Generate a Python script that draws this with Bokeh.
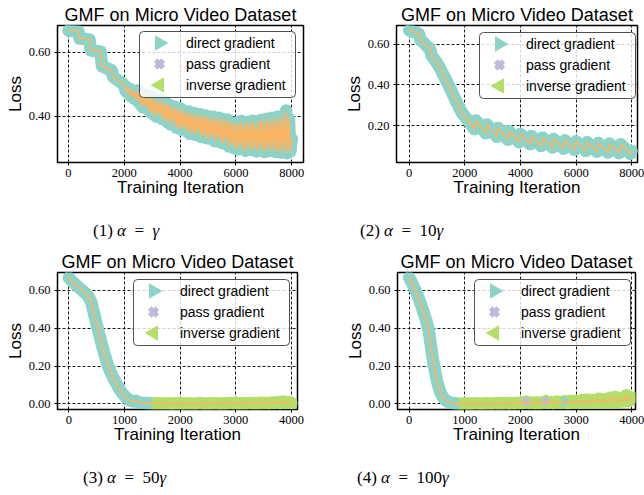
import numpy as np
from bokeh.plotting import figure
from bokeh.models import FixedTicker, PrintfTickFormatter, Range1d, Label, BoxAnnotation, Div
from bokeh.layouts import column, row
from bokeh.embed import file_html
from bokeh.resources import INLINE

# ---------------- data ----------------
TITLE = "GMF on Micro Video Dataset"
X_LABEL = "Training Iteration"
Y_LABEL = "Loss"
LEGEND_LABELS = ["direct gradient", "pass gradient", "inverse gradient"]
CAPTION_NUMS = ["(1)", "(2)", "(3)", "(4)"]
CAPTION_COEFS = ["", "10", "50", "100"]

XTICKS_8K = [0, 2000, 4000, 6000, 8000]
XTICKS_4K = [0, 1000, 2000, 3000, 4000]
YTICKS_1 = [0.40, 0.60]
YTICKS_2 = [0.20, 0.40, 0.60]
YTICKS_34 = [0.00, 0.20, 0.40, 0.60]

ITER_8K = list(range(0, 8001, 50))
ITER_4K = list(range(0, 4001, 50))

# (1) alpha = gamma
LOSS_1 = [
    0.668, 0.668, 0.667, 0.667, 0.666, 0.666, 0.665, 0.665,
    0.643, 0.643, 0.642, 0.642, 0.641, 0.641, 0.640, 0.640,
    0.606, 0.605, 0.605, 0.604, 0.604, 0.603, 0.603, 0.602,
    0.557, 0.555, 0.553, 0.551, 0.549, 0.547, 0.545, 0.543,
    0.523, 0.520, 0.517, 0.514, 0.511, 0.508, 0.505, 0.502,
    0.495, 0.478, 0.490, 0.470, 0.486, 0.462, 0.480, 0.455, 0.476, 0.450,
    0.480, 0.440, 0.470, 0.428, 0.462, 0.435, 0.468, 0.420, 0.455, 0.412,
    0.462, 0.405, 0.450, 0.398, 0.444, 0.410, 0.452, 0.392, 0.438, 0.388,
    0.442, 0.382, 0.436, 0.375, 0.425, 0.388, 0.430, 0.365, 0.420, 0.362,
    0.425, 0.358, 0.418, 0.366, 0.410, 0.352, 0.415, 0.345, 0.405, 0.350,
    0.410, 0.342, 0.400, 0.352, 0.406, 0.335, 0.398, 0.340, 0.402, 0.332,
    0.400, 0.330, 0.392, 0.338, 0.398, 0.322, 0.388, 0.330, 0.395, 0.318,
    0.392, 0.315, 0.385, 0.325, 0.390, 0.305, 0.380, 0.312, 0.378, 0.300,
    0.380, 0.296, 0.376, 0.310, 0.385, 0.298, 0.372, 0.292, 0.382, 0.305,
    0.378, 0.295, 0.386, 0.300, 0.372, 0.290, 0.384, 0.302, 0.388, 0.292,
    0.385, 0.288, 0.392, 0.300, 0.380, 0.292, 0.395, 0.296, 0.385, 0.288,
    0.398, 0.292, 0.390, 0.286, 0.402, 0.298, 0.418, 0.284, 0.392, 0.290,
    0.330,
]

# (2) alpha = 10 gamma
LOSS_2 = [
    0.669, 0.667, 0.664, 0.662, 0.659, 0.657, 0.654, 0.651,
    0.622, 0.617, 0.611, 0.603, 0.596, 0.589, 0.583, 0.578,
    0.545, 0.536, 0.527, 0.517, 0.507, 0.496, 0.484, 0.470,
    0.456, 0.443, 0.430, 0.417, 0.403, 0.389, 0.375, 0.360,
    0.345, 0.330, 0.315, 0.300, 0.287, 0.274, 0.262, 0.252,
    0.245, 0.236, 0.227, 0.218, 0.209, 0.200, 0.191, 0.182,
    0.225, 0.216, 0.207, 0.198, 0.189, 0.180, 0.171, 0.162,
    0.205, 0.196, 0.188, 0.179, 0.171, 0.162, 0.154, 0.145,
    0.188, 0.180, 0.171, 0.163, 0.155, 0.146, 0.138, 0.130,
    0.172, 0.164, 0.157, 0.149, 0.141, 0.133, 0.126, 0.118,
    0.158, 0.151, 0.144, 0.137, 0.129, 0.122, 0.115, 0.108,
    0.148, 0.141, 0.134, 0.127, 0.120, 0.113, 0.106, 0.099,
    0.140, 0.133, 0.126, 0.119, 0.113, 0.106, 0.099, 0.092,
    0.133, 0.126, 0.120, 0.113, 0.106, 0.099, 0.093, 0.086,
    0.127, 0.120, 0.114, 0.107, 0.100, 0.093, 0.087, 0.080,
    0.122, 0.115, 0.109, 0.102, 0.095, 0.088, 0.082, 0.075,
    0.118, 0.111, 0.105, 0.098, 0.091, 0.084, 0.078, 0.071,
    0.114, 0.107, 0.101, 0.094, 0.087, 0.080, 0.074, 0.067,
    0.111, 0.104, 0.098, 0.091, 0.084, 0.077, 0.071, 0.064,
    0.108, 0.101, 0.095, 0.088, 0.081, 0.074, 0.068, 0.061,
    0.075,
]

# (3) alpha = 50 gamma
LOSS_3 = [
    0.668, 0.652, 0.637, 0.624, 0.611, 0.598, 0.585, 0.569, 0.540, 0.482,
    0.421, 0.364, 0.306, 0.255, 0.205, 0.168, 0.138, 0.110, 0.082, 0.060,
    0.042, 0.028, 0.018, 0.012, 0.016, 0.008, 0.006, 0.005, 0.004, 0.003,
    0.003, 0.002, 0.003, 0.002, 0.002, 0.003, 0.002, 0.001, 0.002, 0.003,
    0.002, 0.001, 0.002, 0.003, 0.002, 0.001, 0.002, 0.004, 0.002, 0.001,
    0.002, 0.003, 0.002, 0.004, 0.001, 0.002, 0.003, 0.002, 0.005, 0.002,
    0.003, 0.001, 0.004, 0.002, 0.003, 0.005, 0.002, 0.004, 0.002, 0.006,
    0.003, 0.005, 0.002, 0.007, 0.004, 0.010, 0.003, 0.012, 0.005, 0.008,
    0.004,
]

# (4) alpha = 100 gamma
LOSS_4 = [
    0.668, 0.640, 0.608, 0.575, 0.535, 0.492, 0.445, 0.392, 0.285, 0.195,
    0.120, 0.068, 0.038, 0.020, 0.011, 0.006, 0.003, 0.002, 0.001,
    0.001, 0.002, 0.001, 0.002, 0.001, 0.003, 0.001, 0.002, 0.001, 0.003,
    0.001, 0.002, 0.004, 0.001, 0.003, 0.002, 0.005, 0.001, 0.004, 0.002,
    0.006, 0.002, 0.005, 0.012, 0.003, 0.007, 0.002, 0.008, 0.003, 0.006,
    0.014, 0.004, 0.010, 0.003, 0.012, 0.005, 0.009, 0.014, 0.004, 0.016,
    0.006, 0.015, 0.004, 0.020, 0.007, 0.023, 0.005, 0.019, 0.008, 0.027,
    0.006, 0.024, 0.009, 0.032, 0.007, 0.036, 0.010, 0.030, 0.012, 0.045,
    0.015, 0.034,
]

# which gradient kind each logged point belongs to
DIRECT_UNTIL = [8000, 8000, 1500, 900]
PASS_AT = [[], [], [], [2100, 2450]]
DIRECT_AT = [[], [], [], [2800]]

# ---------------- style ----------------
TEAL, PURPLE, GREEN, ORANGE = "#8dd3c7", "#bebada", "#b3de69", "#fdb462"
SANS, SERIF = "Liberation Sans", "Liberation Serif"
BAND_W = 12.5


def kinds_for(iters, direct_until, pass_at, direct_at):
    out = []
    for it in iters:
        if it <= direct_until or it in direct_at:
            out.append("direct")
        elif it in pass_at:
            out.append("pass")
        else:
            out.append("inverse")
    return out


def panel(iters, loss, kinds, direct_until, geom, xr, yr, xticks, yticks, leg_pos):
    mbl, fw, mbr, mbt, fh, mbb = geom
    p = figure(width=mbl + fw + mbr, height=mbt + fh + mbb,
               x_range=Range1d(*xr), y_range=Range1d(*yr),
               min_border_left=mbl, min_border_right=mbr,
               min_border_top=mbt, min_border_bottom=mbb,
               output_backend="svg", toolbar_location=None, tools="",
               title=TITLE)
    p.title.align = "center"
    p.title.text_font = SANS
    p.title.text_font_size = "18px"
    p.title.text_font_style = "normal"
    p.title.text_color = "black"
    p.title.standoff = 1
    p.title.offset = 0
    p.background_fill_color = "white"
    p.border_fill_color = "white"
    p.outline_line_color = "black"
    p.outline_line_width = 1.5

    p.xaxis.ticker = FixedTicker(ticks=xticks)
    p.yaxis.ticker = FixedTicker(ticks=yticks)
    p.yaxis.formatter = PrintfTickFormatter(format="%.2f")
    p.xaxis.axis_label = X_LABEL
    p.yaxis.axis_label = Y_LABEL
    for ax in (p.xaxis[0], p.yaxis[0]):
        ax.axis_label_text_font = SANS
        ax.axis_label_text_font_size = "17px"
        ax.axis_label_text_font_style = "normal"
        ax.axis_label_text_color = "black"
        ax.major_label_text_font = SERIF
        ax.major_label_text_font_size = "12.5px"
        ax.major_label_text_color = "black"
        ax.major_tick_out = 3
        ax.major_tick_in = 0
        ax.minor_tick_out = 0
        ax.minor_tick_in = 0
        ax.major_tick_line_color = "black"
        ax.axis_line_color = None
    p.xaxis.major_label_standoff = 3
    p.xaxis.axis_label_standoff = -2
    p.yaxis.major_label_standoff = 4
    p.yaxis.axis_label_standoff = 1
    p.grid.grid_line_color = "black"
    p.grid.grid_line_dash = "3 2"
    p.grid.grid_line_alpha = 0.9
    p.grid.grid_line_width = 1

    it = np.array(iters, dtype=float)
    ls = np.array(loss, dtype=float)
    kd = np.array(kinds)
    early = it <= direct_until
    late = ~early
    # dense marker bands (teal for direct, green for inverse part)
    p.line(it[early], ls[early], line_width=BAND_W, line_color=TEAL,
           line_join="round", line_cap="round")
    if late.any():
        p.line(it[late], ls[late], line_width=BAND_W, line_color=GREEN,
               line_join="round", line_cap="round")
    m = (kd == "direct") & early
    p.scatter(it[m], ls[m], marker="triangle", angle=-np.pi / 2, size=12,
              fill_color=TEAL, line_color=None)
    m = kd == "inverse"
    if m.any():
        p.scatter(it[m], ls[m], marker="triangle", angle=np.pi / 2, size=12,
                  fill_color=GREEN, line_color=None)
    m = (kd == "direct") & late
    if m.any():
        p.scatter(it[m], ls[m], marker="triangle", angle=-np.pi / 2, size=12,
                  fill_color=TEAL, line_color=None)
    m = kd == "pass"
    if m.any():
        p.scatter(it[m], ls[m], marker="x", size=9, line_color=PURPLE, line_width=4)
    p.line(it, ls, line_color=ORANGE, line_width=1.6)

    # legend (box + markers + labels), placed in frame pixels
    def dx(px):
        return xr[0] + px * (xr[1] - xr[0]) / fw

    def dy(py):
        return yr[1] - py * (yr[1] - yr[0]) / fh

    L, T = leg_pos
    W, H = 156, 66
    box_kw = dict(left=dx(L), right=dx(L + W), top=dy(T), bottom=dy(T + H),
                  fill_color="white", fill_alpha=0.8, line_color="#505050",
                  line_width=1, line_alpha=1.0, level="annotation")
    if "border_radius" in BoxAnnotation.properties():
        box_kw["border_radius"] = 4
    p.add_layout(BoxAnnotation(**box_kw))
    rows_y = [11.5, 32.5, 53.5]
    mx = dx(L + 20)
    r1 = p.scatter([mx], [dy(T + rows_y[0])], marker="triangle", angle=-np.pi / 2,
                   size=15.5, fill_color=TEAL, line_color=None)
    r2 = p.scatter([mx], [dy(T + rows_y[1])], marker="x", size=11,
                   line_color=PURPLE, line_width=5)
    r3 = p.scatter([mx], [dy(T + rows_y[2])], marker="triangle", angle=np.pi / 2,
                   size=15.5, fill_color=GREEN, line_color=None)
    for r in (r1, r2, r3):
        r.level = "overlay"
    for lab, ry in zip(LEGEND_LABELS, rows_y):
        p.add_layout(Label(x=dx(L + 46.5), y=dy(T + ry), text=lab,
                           text_align="left", text_baseline="middle",
                           text_font=SANS, text_font_size="14px",
                           text_color="black", level="overlay"))
    return p


def caption(idx, pad_left, pad_top, height):
    coef = CAPTION_COEFS[idx]
    html = (f'<div style="font-family:\'{SERIF}\'; font-size:17px; line-height:1.15; '
            f'padding-left:{pad_left}px; padding-top:{pad_top}px; white-space:nowrap; color:black;">'
            f'{CAPTION_NUMS[idx]}&nbsp;<i>α</i>&ensp;=&ensp;{coef}<i>γ</i></div>')
    return Div(text=html, width=322, height=height, margin=(0, 0, 0, 0))


iters_all = [ITER_8K, ITER_8K, ITER_4K, ITER_4K]
kinds_all = [kinds_for(iters_all[i], DIRECT_UNTIL[i], PASS_AT[i], DIRECT_AT[i]) for i in range(4)]

p1 = panel(ITER_8K, LOSS_1, kinds_all[0], DIRECT_UNTIL[0], (57, 246, 19, 25, 137, 44),
           (-394, 8423), (0.2553, 0.6834), XTICKS_8K, YTICKS_1, (82, 6))
p2 = panel(ITER_8K, LOSS_2, kinds_all[1], DIRECT_UNTIL[1], (74, 241, 7, 25, 137, 44),
           (-456, 8205), (0.018, 0.692), XTICKS_8K, YTICKS_2, (83, 7))
p3 = panel(ITER_4K, LOSS_3, kinds_all[2], DIRECT_UNTIL[2], (57, 240, 25, 27, 137, 44),
           (-203, 4107), (-0.030, 0.695), XTICKS_4K, YTICKS_34, (76, 7))
p4 = panel(ITER_4K, LOSS_4, kinds_all[3], DIRECT_UNTIL[3], (75, 238, 9, 27, 137, 44),
           (-210, 4066), (-0.030, 0.695), XTICKS_4K, YTICKS_34, (77, 7))

d1 = caption(0, 93, 15, 39)
d2 = caption(1, 38, 15, 39)
d3 = caption(2, 83, 15, 40)
d4 = caption(3, 35, 15, 40)

layout = column(row(column(p1, d1), column(p2, d2)),
                row(column(p3, d3), column(p4, d4)))

open("out.html", "w").write(file_html(layout, INLINE, title=TITLE))
